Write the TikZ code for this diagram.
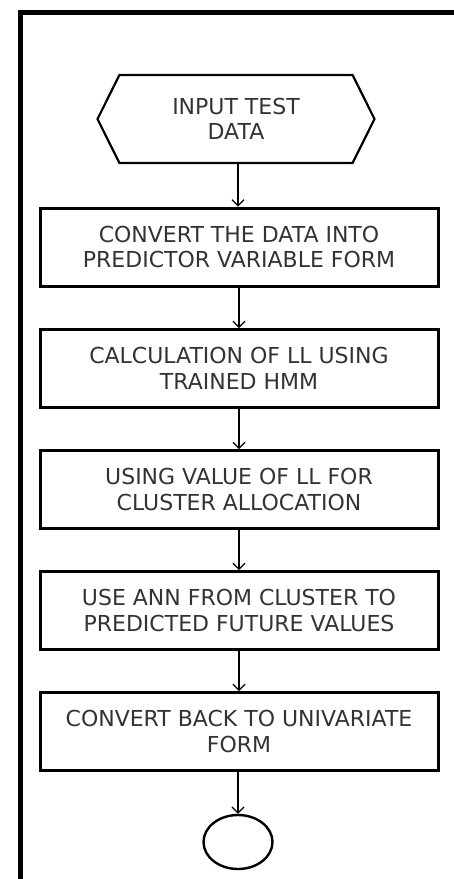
\documentclass[tikz,border=0pt]{standalone}
\usepackage{fontspec}
\setmainfont{DejaVu Sans}
\usepackage{tikz}
\usetikzlibrary{arrows.meta, shapes.symbols, shapes.geometric}

\begin{document}
\begin{tikzpicture}[
    x=1pt, y=-1pt,
    box/.style={draw=black, align=center, text=black!80, font=\fontsize{22}{25.5}\selectfont},
    procbox/.style={box, line width=3pt, minimum width=398pt, minimum height=78pt, inner sep=2pt},
    inputbox/.style={box, shape=signal, signal to=west and east, signal pointer angle=127,
        line width=2.2pt, minimum width=277pt, minimum height=88pt, inner sep=2pt},
    endbox/.style={draw=black, ellipse, line width=2.4pt, minimum width=69pt, minimum height=54pt},
    frame/.style={line width=5pt, black},
    arrow/.style={-{Straight Barb[length=6pt, width=12pt]}, line width=1.2pt, black}
]
    \useasboundingbox (0,0) rectangle (454,879);

    % Outer frame, only its top and left sides show.
    \draw[frame] (20,879) -- (20,12) -- (454,12);

    \node[inputbox] (input) at (236,119) {INPUT TEST\\DATA};
    \node[procbox] (convert) at (239,247) {CONVERT THE DATA INTO\\PREDICTOR VARIABLE FORM};
    \node[procbox] (calc) at (239,368.5) {CALCULATION OF LL USING\\TRAINED HMM};
    \node[procbox] (alloc) at (239,489.5) {USING VALUE OF LL FOR\\CLUSTER ALLOCATION};
    \node[procbox] (predict) at (239,610.5) {USE ANN FROM CLUSTER TO\\PREDICTED FUTURE VALUES};
    \node[procbox] (back) at (239,731.5) {CONVERT BACK TO UNIVARIATE\\FORM};
    \node[endbox] (stop) at (238,842) {};

    \draw[arrow] (input.south -| stop.north) -- (convert.north -| stop.north);
    \draw[arrow] (convert) -- (calc);
    \draw[arrow] (calc) -- (alloc);
    \draw[arrow] (alloc) -- (predict);
    \draw[arrow] (predict) -- (back);
    \draw[arrow] (back.south -| stop.north) -- (stop.north);

\end{tikzpicture}
\end{document}
